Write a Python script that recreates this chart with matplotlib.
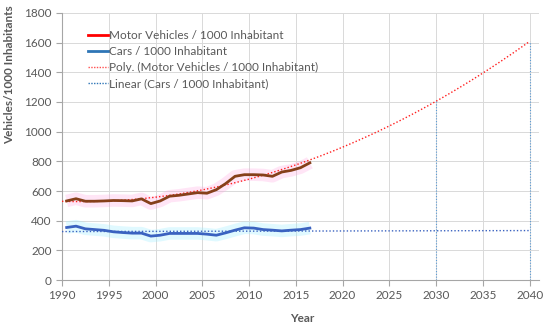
import numpy as np
import matplotlib
matplotlib.use("Agg")
import matplotlib.pyplot as plt

plt.rcParams['font.family'] = ['Lato', 'DejaVu Sans']

# data (mid-year points)
years = [1990.5, 1991.5, 1992.5, 1993.5, 1994.5, 1995.5, 1996.5, 1997.5, 1998.5,
         1999.5, 2000.5, 2001.5, 2002.5, 2003.5, 2004.5, 2005.5, 2006.5, 2007.5,
         2008.5, 2009.5, 2010.5, 2011.5, 2012.5, 2013.5, 2014.5, 2015.5, 2016.5]
motor = [533, 548, 531, 531, 533, 536, 535, 533, 547, 515, 533, 565, 571, 580,
         589, 585, 609, 650, 699, 710, 710, 708, 699, 728, 739, 757, 790]
cars = [354, 363, 345, 340, 335, 325, 320, 316, 316, 296, 302, 314, 314, 314,
        314, 309, 302, 318, 336, 352, 350, 340, 336, 331, 336, 340, 350]
drop_years = [2030, 2040]

grey = '#595959'
fig, ax = plt.subplots(figsize=(5.5, 3.28), dpi=100)
fig.subplots_adjust(left=0.1127, right=0.98, bottom=0.1463, top=0.9604)

x = np.array(years)
xt = np.linspace(1990, 2040, 200)
p_poly = np.polyfit(x - 0.5, motor, 2)
p_lin = np.polyfit(x, cars, 1)

# glow behind the lines
ax.plot(years, motor, color='#ff99dd', lw=9, alpha=0.25, solid_capstyle='butt', zorder=2)
ax.plot(years, cars, color='#99eeff', lw=9, alpha=0.3, solid_capstyle='butt', zorder=2)

ax.plot(years, motor, color='#86401a', lw=2, zorder=4)
ax.plot(years, cars, color='#3a62c0', lw=2, zorder=4)
ax.plot(xt, np.polyval(p_poly, xt), color='#ff2020', lw=1, ls=(0, (1, 1.5)), zorder=3)
ax.plot(xt, np.polyval(p_lin, xt), color='#3a62c0', lw=1, ls=(0, (1, 1.5)), zorder=3)

for yr in drop_years:
    ax.vlines(yr, 0, np.polyval(p_poly, yr), color='#5b9bd5', lw=0.8,
              ls=(0, (1, 1.5)), zorder=3)

# legend proxies
h1, = ax.plot([], [], color='#ff0000', lw=2, label='Motor Vehicles / 1000 Inhabitant')
h2, = ax.plot([], [], color='#2e75b6', lw=2, label='Cars / 1000 Inhabitant')
h3, = ax.plot([], [], color='#ff5050', lw=1, ls=(0, (1, 1)),
              label='Poly. (Motor Vehicles / 1000 Inhabitant)')
h4, = ax.plot([], [], color='#2e75b6', lw=1, ls=(0, (1, 1)),
              label='Linear (Cars / 1000 Inhabitant)')
leg = ax.legend(handles=[h1, h2, h3, h4], loc='upper left',
                bbox_to_anchor=(88 / 550, 1 - 30 / 328), bbox_transform=fig.transFigure,
                frameon=False, fontsize=8.5, handlelength=1.7, handletextpad=0.1,
                labelspacing=0.42, borderpad=0, borderaxespad=0)
for t in leg.get_texts():
    t.set_color(grey)

ax.set_xlim(1990, 2041)
ax.set_ylim(0, 1800)
ax.set_xticks(range(1990, 2041, 5))
ax.set_yticks(range(0, 1801, 200))
ax.grid(True, color='#d9d9d9', lw=0.7)
ax.set_axisbelow(True)
for s in ['top', 'right']:
    ax.spines[s].set_visible(False)
for s in ['left', 'bottom']:
    ax.spines[s].set_color('#a6a6a6')
ax.tick_params(colors='#a6a6a6', labelcolor=grey, labelsize=8.5, length=4)
ax.set_xlabel('Year', fontsize=8.5, fontweight='bold', color=grey, va='center')
ax.xaxis.set_label_coords(0.503, -0.146)
ax.set_ylabel('Vehicles/1000 Inhabitants', fontsize=8.5, fontweight='bold', color=grey,
              va='center')
ax.yaxis.set_label_coords(-0.11, 0.768)

fig.savefig('out.png', dpi=100)
